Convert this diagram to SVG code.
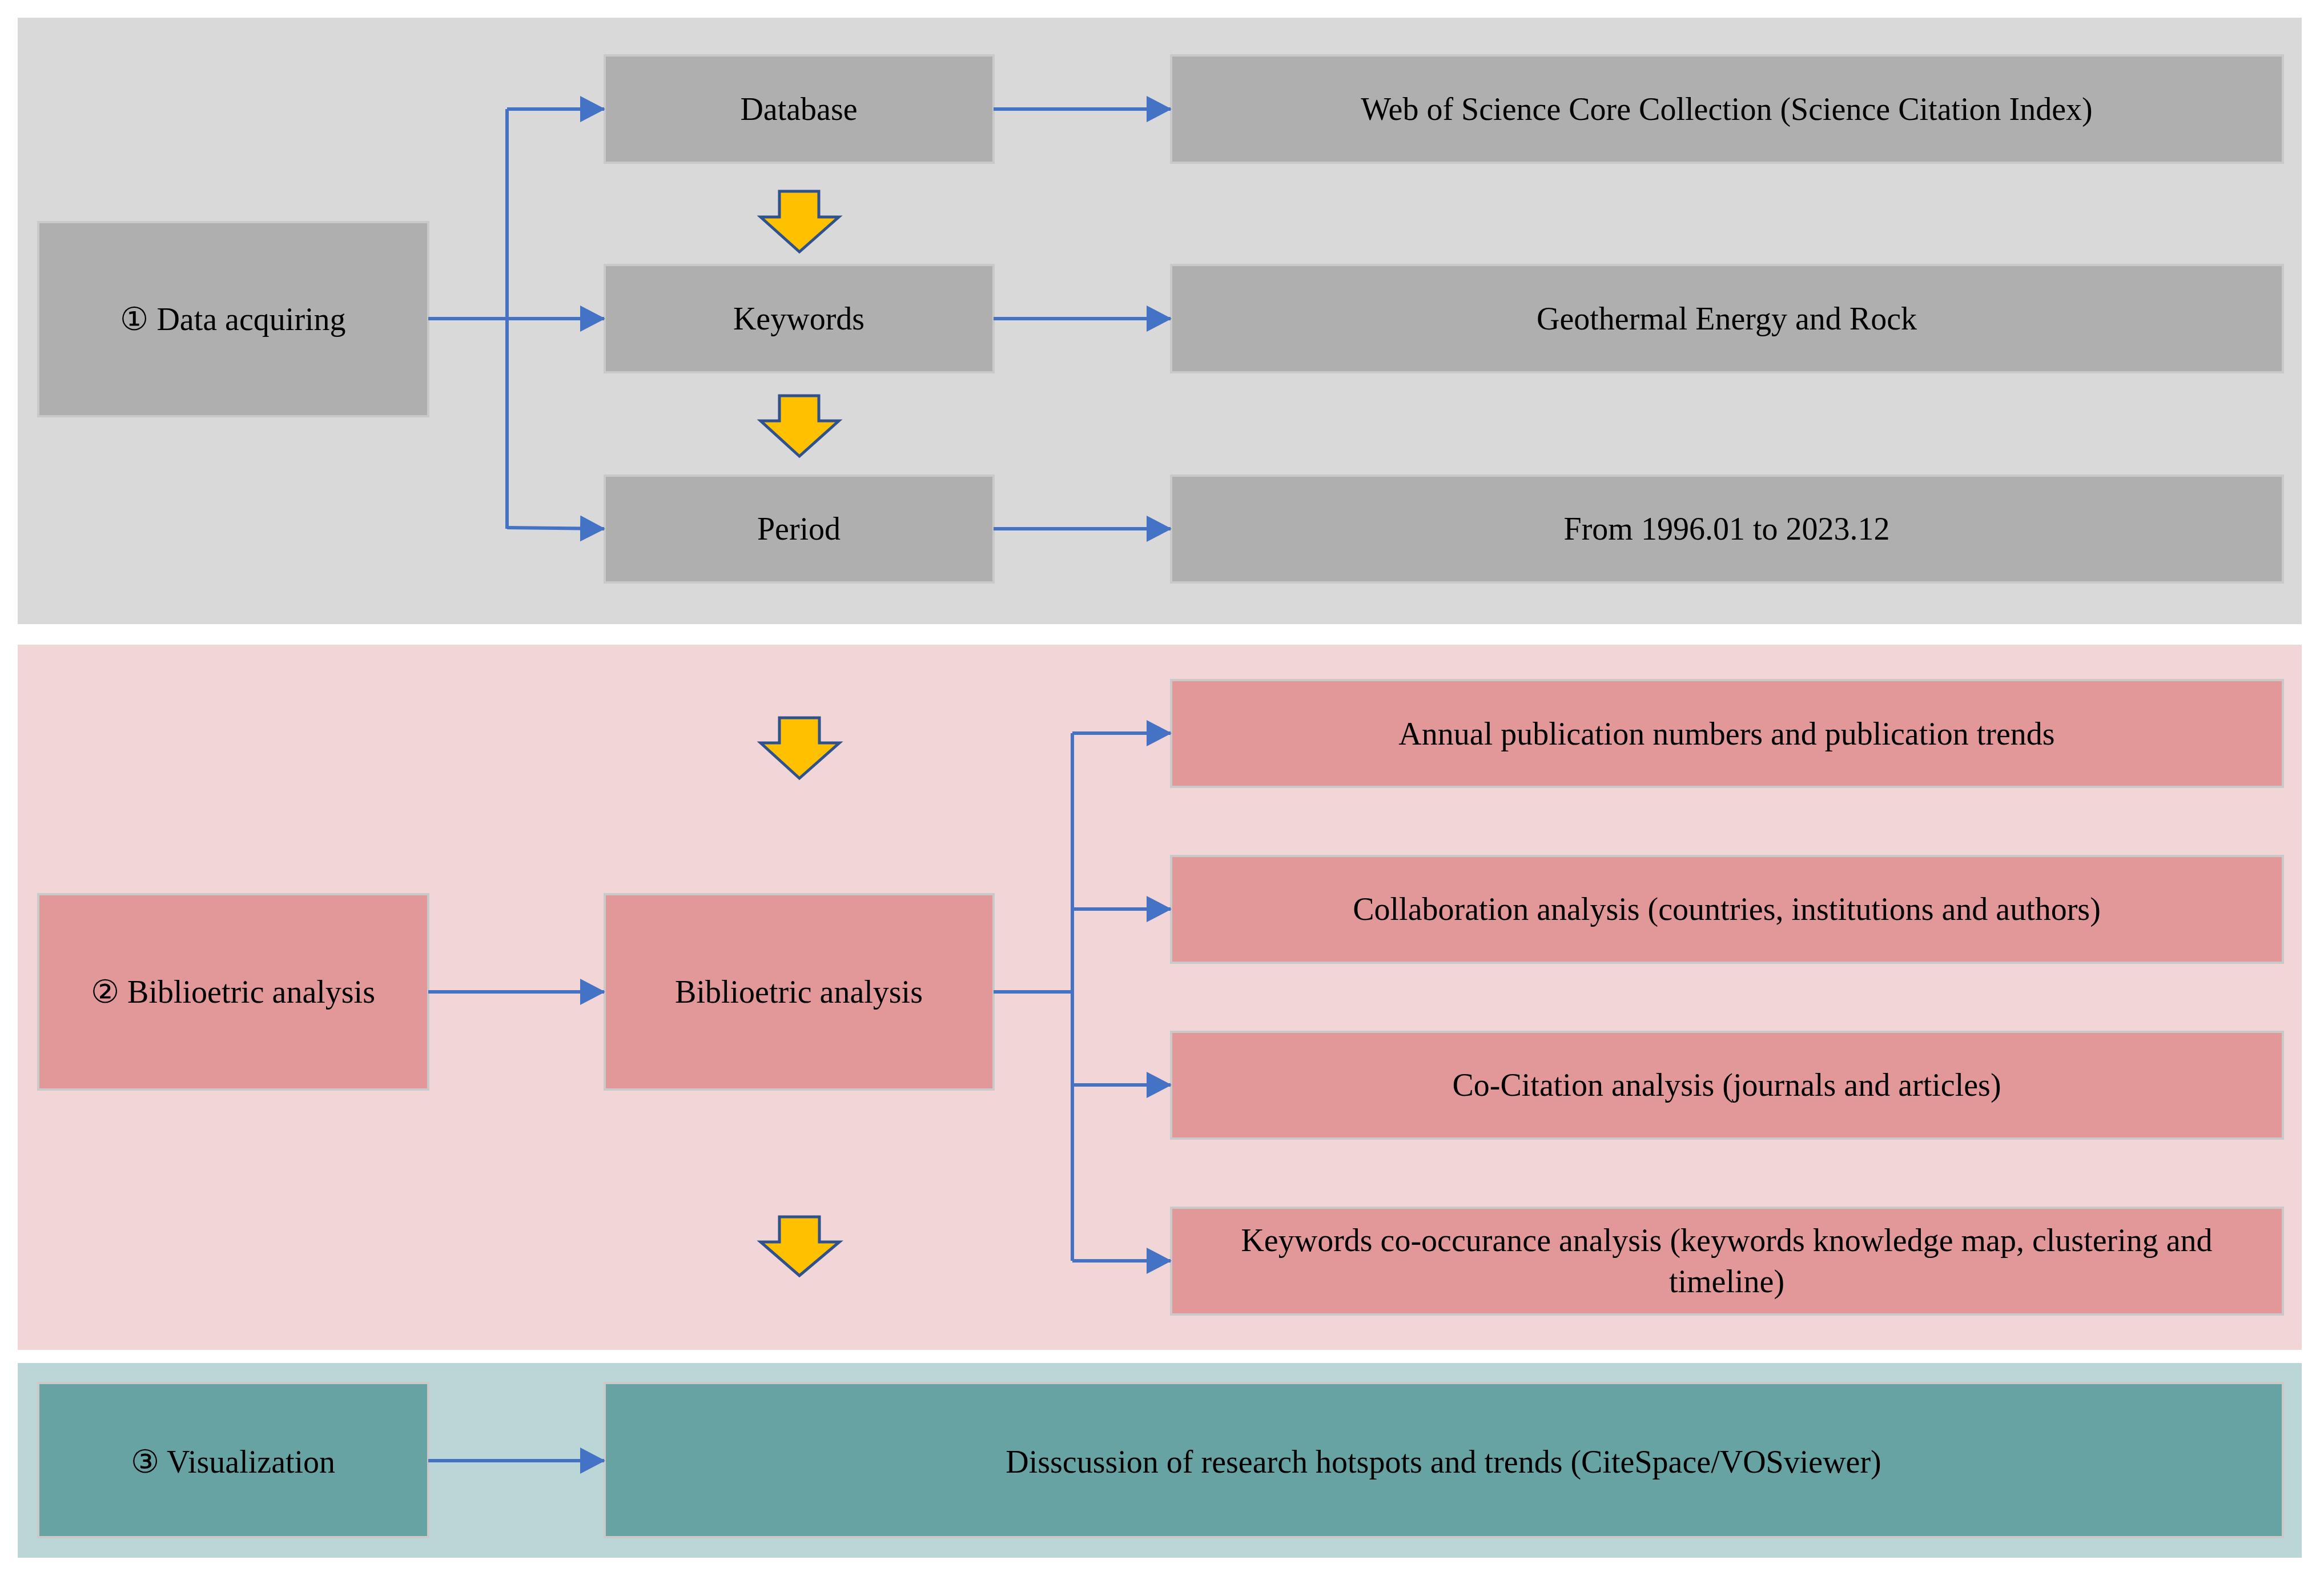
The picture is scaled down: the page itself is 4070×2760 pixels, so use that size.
<svg xmlns="http://www.w3.org/2000/svg" width="4070" height="2760" viewBox="0 0 4070 2760">
<style>
text{font-family:"Liberation Serif","Times New Roman",serif;font-size:56px;fill:#000;text-anchor:middle;dominant-baseline:central}
.g{fill:#afafaf;stroke:#c9c9c9;stroke-width:4}
.r{fill:#e29898;stroke:#c9c9c9;stroke-width:4}
.t{fill:#66a3a2;stroke:#c9c9c9;stroke-width:4}
.c{fill:none;stroke:#4472c4;stroke-width:6}
.y{fill:#ffc000;stroke:#2f528f;stroke-width:5}
</style>
<defs><marker id="a" markerUnits="userSpaceOnUse" markerWidth="44" markerHeight="46" refX="42" refY="23" orient="auto"><path d="M0,0 L44,23 L0,46 Z" fill="#4472c4"/></marker></defs>
<rect x="0" y="0" width="4070" height="2760" fill="#fff"/>
<rect x="31" y="31" width="4000" height="1062" fill="#d9d9d9"/>
<rect x="31" y="1129" width="4000" height="1235" fill="#f2d6d7"/>
<rect x="31" y="2387" width="4000" height="341" fill="#bbd6d6"/>
<g id="n1"><rect class="g" x="67" y="389" width="683" height="340"/><text x="408" y="559">① Data acquiring</text></g>
<g id="db"><rect class="g" x="1059" y="97" width="681" height="188"/><text x="1399" y="191">Database</text></g>
<g id="kw"><rect class="g" x="1059" y="464" width="681" height="188"/><text x="1399" y="558">Keywords</text></g>
<g id="pd"><rect class="g" x="1059" y="833" width="681" height="187"/><text x="1399" y="926">Period</text></g>
<g id="dbv"><rect class="g" x="2051" y="97" width="1947" height="188"/><text x="3024" y="191">Web of Science Core Collection (Science Citation Index)</text></g>
<g id="kwv"><rect class="g" x="2051" y="464" width="1947" height="188"/><text x="3024" y="558">Geothermal Energy and Rock</text></g>
<g id="pdv"><rect class="g" x="2051" y="833" width="1947" height="187"/><text x="3024" y="926">From 1996.01 to 2023.12</text></g>
<g id="n2"><rect class="r" x="67" y="1566" width="683" height="342"/><text x="408" y="1737">② Biblioetric analysis</text></g>
<g id="ba"><rect class="r" x="1059" y="1566" width="681" height="342"/><text x="1399" y="1737">Biblioetric analysis</text></g>
<g id="b1"><rect class="r" x="2051" y="1191" width="1947" height="187"/><text x="3024" y="1285">Annual publication numbers and publication trends</text></g>
<g id="b2"><rect class="r" x="2051" y="1499" width="1947" height="187"/><text x="3024" y="1592">Collaboration analysis (countries, institutions and authors)</text></g>
<g id="b3"><rect class="r" x="2051" y="1807" width="1947" height="187"/><text x="3024" y="1900">Co-Citation analysis (journals and articles)</text></g>
<g id="b4"><rect class="r" x="2051" y="2115" width="1947" height="187"/><text x="3024" y="2172">Keywords co-occurance analysis (keywords knowledge map, clustering and</text><text x="3024" y="2244">timeline)</text></g>
<g id="n3"><rect class="t" x="67" y="2422" width="683" height="270"/><text x="408" y="2560">③ Visualization</text></g>
<g id="vz"><rect class="t" x="1059" y="2422" width="2939" height="270"/><text x="2528" y="2560">Disscussion of research hotspots and trends (CiteSpace/VOSviewer)</text></g>
<g id="connectors">
<path class="c" d="M750,558 H888 M888,191 V926" />
<path class="c" d="M888,191 H1058" marker-end="url(#a)"/>
<path class="c" d="M888,558 H1058" marker-end="url(#a)"/>
<path class="c" d="M888,924 L1058,926" marker-end="url(#a)"/>
<path class="c" d="M1740,191 H2050" marker-end="url(#a)"/>
<path class="c" d="M1740,558 H2050" marker-end="url(#a)"/>
<path class="c" d="M1740,926 H2050" marker-end="url(#a)"/>
<path class="c" d="M750,1737 H1058" marker-end="url(#a)"/>
<path class="c" d="M1740,1737 H1878 M1878,1284 V2208"/>
<path class="c" d="M1878,1284 H2050" marker-end="url(#a)"/>
<path class="c" d="M1878,1592 H2050" marker-end="url(#a)"/>
<path class="c" d="M1878,1900 H2050" marker-end="url(#a)"/>
<path class="c" d="M1878,2208 H2050" marker-end="url(#a)"/>
<path class="c" d="M750,2558 H1058" marker-end="url(#a)"/>
</g>
<g id="yellow">
<path class="y" d="M1365,335 H1434 V380 H1469 L1400,441 L1332,380 H1365 Z"/>
<path class="y" d="M1365,693 H1434 V737 H1469 L1400,799 L1332,737 H1365 Z"/>
<path class="y" d="M1365,1257 H1435 V1301 H1470 L1400,1363 L1332,1301 H1365 Z"/>
<path class="y" d="M1365,2131 H1435 V2175 H1470 L1400,2234 L1332,2175 H1365 Z"/>
</g>
</svg>
